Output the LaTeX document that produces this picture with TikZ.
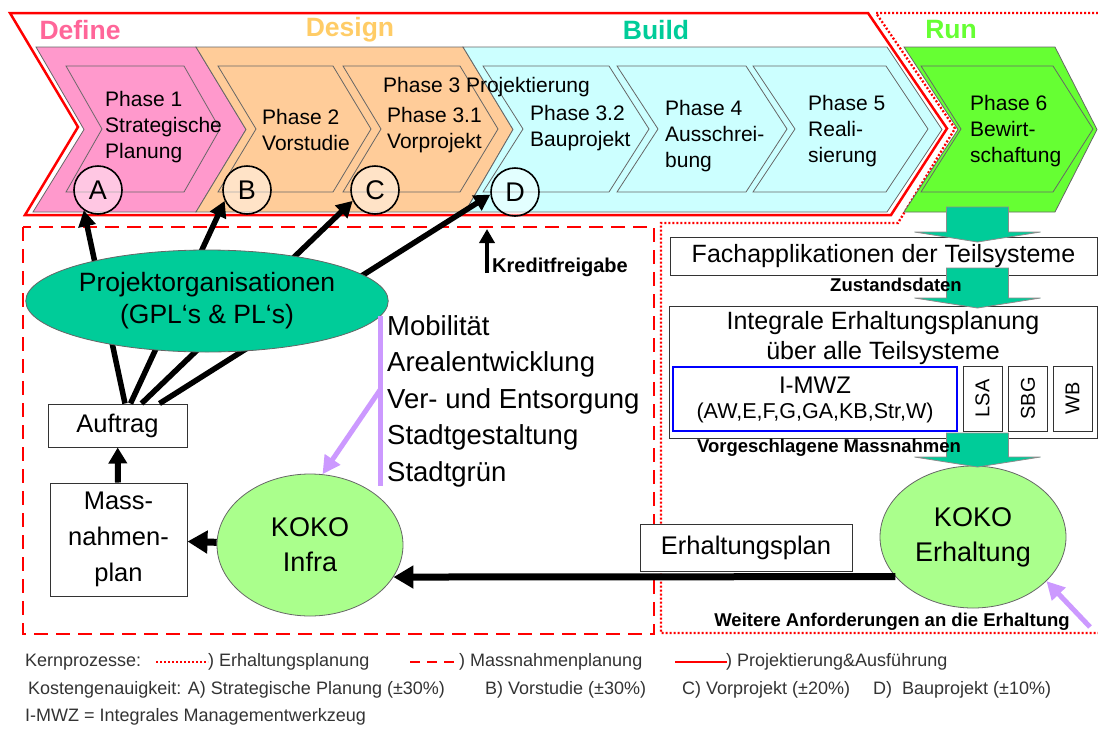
\documentclass[tikz,border=0pt]{standalone}
\usepackage{fontspec}
\setmainfont{Liberation Sans}
\usetikzlibrary{arrows.meta,shapes.geometric}

\definecolor{definepink}{HTML}{FF99CC}
\definecolor{definetxt}{HTML}{FF6699}
\definecolor{designorange}{HTML}{FFCC99}
\definecolor{designtxt}{HTML}{FFCC66}
\definecolor{buildcyan}{HTML}{CCFFFF}
\definecolor{buildtxt}{HTML}{00CC99}
\definecolor{rungreen}{HTML}{66FF33}
\definecolor{orgteal}{HTML}{00CC99}
\definecolor{kokogreen}{HTML}{AAFF8C}
\definecolor{lila}{HTML}{CC99FF}
\definecolor{legendgray}{HTML}{333333}

\tikzset{
  chevline/.style={draw=black!60, line width=0.8pt},
  phasetext/.style={align=left, anchor=west, inner sep=0pt, font=\fontsize{21}{26}\selectfont},
  stagelabel/.style={inner sep=0pt, font=\fontsize{26.5}{28}\selectfont\bfseries},
  milestone/.style={circle, draw, line width=1.6pt, minimum size=48pt, inner sep=0pt,
    fill=white, fill opacity=0.45, text opacity=1, font=\fontsize{27}{27}\selectfont},
  projframe/.style={draw=red, line width=2.5pt},
  massframe/.style={draw=red, line width=2.5pt, dash pattern=on 14pt off 8pt},
  erhframe/.style={draw=red, line width=2.3pt, dash pattern=on 2pt off 2pt},
  fatarrow/.style={line width=5.5pt, -{Triangle[length=16pt,width=17pt]}},
  bigarrow/.style={line width=7pt, -{Triangle[length=20pt,width=22pt]}},
  midarrow/.style={line width=6pt, -{Triangle[length=16pt,width=18pt]}},
  kreditarrow/.style={line width=4.5pt, -{Triangle[length=14pt,width=15pt]}},
  lilaarrow/.style={draw=lila, line width=5pt, -{Triangle[length=18pt,width=18pt]}},
  box/.style={draw=black!80, line width=1pt, fill=white, inner sep=0pt, align=center,
    font=\fontsize{25.5}{36}\selectfont},
  subsys/.style={draw=black!80, line width=1pt, rotate=90, minimum width=65pt,
    minimum height=39pt, inner sep=0pt, font=\fontsize{20}{20}\selectfont},
  orgellipse/.style={ellipse, draw=black!60, line width=0.8pt, fill=orgteal,
    minimum width=334pt, minimum height=102pt, inner sep=0pt, align=center,
    font=\fontsize{26.5}{32}\selectfont},
  koko/.style={ellipse, draw=black!60, line width=0.8pt, fill=kokogreen,
    minimum width=186pt, minimum height=142pt, inner sep=0pt, align=center,
    font=\fontsize{27}{35}\selectfont},
  tealblock/.style={draw=black!45, line width=0.8pt, fill=orgteal},
  smallbold/.style={inner sep=0pt, font=\fontsize{18.5}{20}\selectfont\bfseries},
  legend/.style={anchor=west, inner sep=0pt, text=legendgray, font=\fontsize{18}{20}\selectfont}
}

% inner phase chevron: colour, left x, right x, depth
\newcommand\phasechev[4]{\filldraw[chevline,fill=#1] (#2,66) -- (#3,66) -- (#3+#4,129)
  -- (#3,192) -- (#2,192) -- (#2+#4,129) -- cycle;}
% teal block arrow: centre x, top y, tip y
\newcommand\tealarrow[3]{\filldraw[tealblock] (#1-31,#2) -- (#1+31,#2) -- (#1+31,#3-10)
  -- (#1+63,#3-10) -- (#1,#3) -- (#1-63,#3-10) -- (#1-31,#3-10) -- cycle;}

\begin{document}
\begin{tikzpicture}[x=1pt,y=-1pt]
  \useasboundingbox (0,0) rectangle (1098,729);

  % core process frames
  \draw[massframe] (23,227) rectangle (654,634);
  \draw[erhframe] (1110,13) -- (876,13) -- (955,128.5) -- (898,223) -- (661,223)
    -- (661,633) -- (1110,633);
  \draw[projframe] (10,13) -- (868,13) -- (947,128.5) -- (891,215) -- (25,215)
    -- (78,127) -- cycle;

  % stages
  \node[stagelabel, text=definetxt] (define) at (80,30) {Define};
  \node[stagelabel, text=designtxt] (design) at (350,30) {Design};
  \node[stagelabel, text=buildtxt] (build) at (656,30) {Build};
  \node[stagelabel, text=rungreen] (run) at (951,30) {Run};

  \filldraw[chevline,fill=definepink] (36,47) -- (196,47) -- (246,129.5) -- (196,212)
    -- (33,212) -- (84,129.5) -- cycle;
  \filldraw[chevline,fill=designorange] (196,47) -- (463,47) -- (513,129.5) -- (465,212)
    -- (196,212) -- (246,129.5) -- cycle;
  \filldraw[chevline,fill=buildcyan] (463,47) -- (887,47) -- (942,129.5) -- (887,212)
    -- (465,212) -- (513,129.5) -- cycle;
  \filldraw[chevline,fill=rungreen] (904,47) -- (1055,47) -- (1097,129.5) -- (1055,212)
    -- (904,212) -- (958,129.5) -- cycle;

  \phasechev{definepink}{66}{184}{36}
  \phasechev{designorange}{218}{333}{38}
  \phasechev{designorange}{343}{460}{38}
  \phasechev{buildcyan}{483}{609}{40}
  \phasechev{buildcyan}{617}{746}{41}
  \phasechev{buildcyan}{753}{886}{42}
  \phasechev{rungreen}{921}{1053}{40}

  \node[phasetext] (ph1) at (105,127) {Phase 1\\Strategische\\Planung};
  \node[phasetext] (ph2) at (262,130) {Phase 2\\Vorstudie};
  \node[phasetext] (ph3) at (383,87) {Phase 3 Projektierung};
  \node[phasetext] (ph31) at (387,130) {Phase 3.1\\Vorprojekt};
  \node[phasetext] (ph32) at (530,128.5) {Phase 3.2\\Bauprojekt};
  \node[phasetext] (ph4) at (665,136.5) {Phase 4\\Ausschrei-\\bung};
  \node[phasetext] (ph5) at (808,131.5) {Phase 5\\Reali-\\sierung};
  \node[phasetext] (ph6) at (970,131.5) {Phase 6\\Bewirt-\\schaftung};

  \node[milestone] (msA) at (98,190) {A};
  \node[milestone] (msB) at (247,190) {B};
  \node[milestone] (msC) at (375,190) {C};
  \node[milestone] (msD) at (515,192) {D};

  % Massnahmenplanung
  \node[box, minimum width=139pt, minimum height=43pt] (auftrag) at (117.5,425.5) {Auftrag};
  \draw[fatarrow] ([xshift=7.5pt]auftrag.north) -- (msA.235);
  \draw[fatarrow] ([xshift=13pt]auftrag.north) -- (msB.206);
  \draw[fatarrow] ([xshift=24pt]auftrag.north) -- (msC.206);
  \draw[fatarrow] ([xshift=42pt]auftrag.north) -- (msD.186);
  \node[orgellipse] (projorg) at (207,301) {Projektorganisationen\\(GPL‘s \& PL‘s)};

  \coordinate (kreditstart) at (487,273);
  \coordinate (kreditend) at (487,229);
  \draw[kreditarrow] (kreditstart) -- (kreditend);
  \node[anchor=west, inner sep=0pt, font=\fontsize{20}{20}\selectfont\bfseries]
    (kredit) at (492,267) {Kreditfreigabe};

  \coordinate (bartop) at (380,316);
  \coordinate (barbot) at (380,486);
  \coordinate (barmid) at (380,390);
  \draw[draw=lila, line width=5pt] (bartop) -- (barbot);
  \node[anchor=north west, align=left, inner sep=0pt, font=\fontsize{27.5}{36.5}\selectfont]
    (bereiche) at (387,315) {Mobilität\\Arealentwicklung\\Ver- und Entsorgung\\Stadtgestaltung\\Stadtgrün};

  \node[koko] (kokoinfra) at (310,545) {KOKO\\Infra};
  \node[box, minimum width=137pt, minimum height=113pt] (massplan) at (118.5,539.5)
    {Mass-\\nahmen-\\plan};
  \draw[lilaarrow] (barmid) -- (kokoinfra.80);
  \draw[bigarrow] (kokoinfra) -- (massplan);
  \draw[midarrow] (massplan) -- (auftrag);

  % Erhaltungsplanung
  \node[box, minimum width=427pt, minimum height=38pt, font=\fontsize{25}{30}\selectfont]
    (fachapp) at (883.5,256) {Fachapplikationen der Teilsysteme};
  \node[box, minimum width=428pt, minimum height=132pt] (integral) at (883,372) {};
  \node[align=center, inner sep=0pt, font=\fontsize{25}{30}\selectfont] (integraltext)
    at (883,338) {Integrale Erhaltungsplanung\\über alle Teilsysteme};
  \node[draw=blue, line width=2.2pt, minimum width=284pt, minimum height=64pt] (imwz)
    at (815,399) {};
  \node[inner sep=0pt, font=\fontsize{24}{24}\selectfont] (imwzname) at (815,385) {I-MWZ};
  \node[inner sep=0pt, font=\fontsize{21.5}{22}\selectfont] (imwzlist) at (815,413)
    {(AW,E,F,G,GA,KB,Str,W)};
  \node[subsys] (lsa) at (982.5,398.5) {LSA};
  \node[subsys] (sbg) at (1028,398.5) {SBG};
  \node[subsys] (wb) at (1072.5,398.5) {WB};

  \node[koko] (kokoerh) at (973,537) {KOKO\\Erhaltung};

  \tealarrow{977.5}{207}{242}
  \tealarrow{977.5}{268}{308}
  \tealarrow{977.5}{433}{467}
  \node[smallbold] (zustand) at (896,285) {Zustandsdaten};
  \node[smallbold] (vorschlag) at (829,448) {Vorgeschlagene Massnahmen};

  \node[box, minimum width=212pt, minimum height=47pt] (erhplan) at (746,547.5) {Erhaltungsplan};
  \draw[bigarrow] (kokoerh.207) -- (kokoinfra.339);

  \coordinate (weiter) at (1090,627);
  \draw[lilaarrow] (weiter) -- (kokoerh.329);
  \node[smallbold] (weiterlabel) at (892,622) {Weitere Anforderungen an die Erhaltung};

  % legend
  \node[legend] (kern) at (25,662) {Kernprozesse:};
  \draw[erhframe, line width=2pt] (156,662) -- (208,662);
  \node[legend] (kern1) at (208,662) {) Erhaltungsplanung};
  \draw[massframe, line width=2.2pt, dash pattern=on 10pt off 7pt] (410,662) -- (460,662);
  \node[legend] (kern2) at (459,662) {) Massnahmenplanung};
  \draw[projframe, line width=2.2pt] (675,662) -- (727,662);
  \node[legend] (kern3) at (726,662) {) Projektierung\&Ausführung};
  \node[legend] (kostA) at (28,690) {Kostengenauigkeit: A) Strategische Planung (±30\%)};
  \node[legend] (kostB) at (485,690) {B) Vorstudie (±30\%)};
  \node[legend] (kostC) at (682,690) {C) Vorprojekt (±20\%)};
  \node[legend] (kostD) at (873,690) {D)~ Bauprojekt (±10\%)};
  \node[legend] (abk) at (25,717) {I-MWZ = Integrales Managementwerkzeug};
\end{tikzpicture}
\end{document}
